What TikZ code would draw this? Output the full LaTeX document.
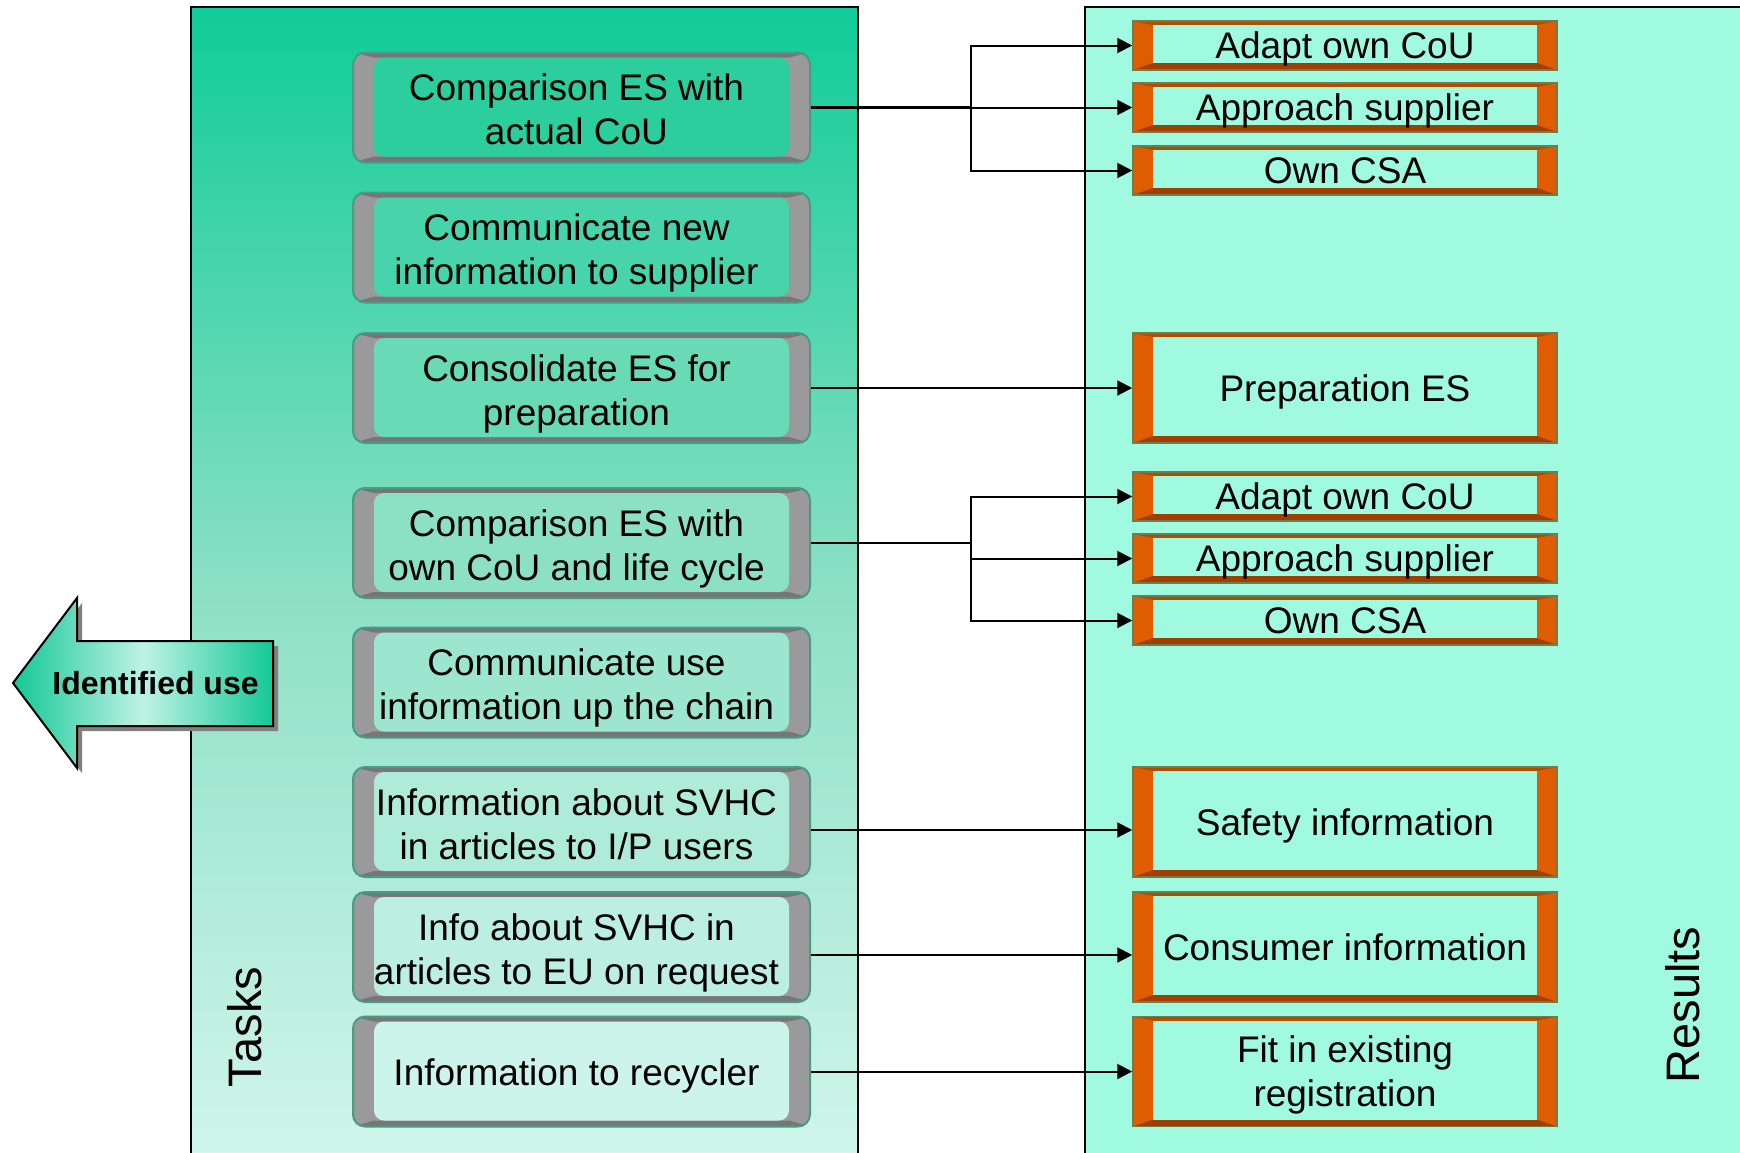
\documentclass[tikz,border=0pt]{standalone}
\usepackage{fontspec}
\setmainfont{Liberation Sans}
\usetikzlibrary{arrows.meta}

% panel colours
\definecolor{panelTop}{RGB}{16,204,152}
\definecolor{panelMid}{RGB}{140,224,196}
\definecolor{panelBot}{RGB}{210,246,236}
\definecolor{resultBg}{RGB}{160,250,224}
% task box colours
\definecolor{bevelGray}{RGB}{154,154,154}
\definecolor{bevelDark}{RGB}{118,118,118}
\definecolor{taskEdge}{RGB}{70,156,134}
\definecolor{faceA}{RGB}{44,206,158}
\definecolor{faceB}{RGB}{72,212,170}
\definecolor{faceC}{RGB}{104,218,182}
\definecolor{faceD}{RGB}{140,225,196}
\definecolor{faceE}{RGB}{156,229,206}
\definecolor{faceF}{RGB}{174,235,216}
\definecolor{faceG}{RGB}{188,239,225}
\definecolor{faceH}{RGB}{204,244,234}
% result box colours
\definecolor{orangeSide}{RGB}{224,92,0}
\definecolor{orangeTop}{RGB}{172,80,0}
\definecolor{orangeBot}{RGB}{160,64,0}
\definecolor{resultEdge}{RGB}{110,124,80}
% banner arrow colours
\definecolor{bannerEdge}{RGB}{20,200,150}
\definecolor{bannerLight}{RGB}{190,242,228}

\tikzset{
  txt/.style={font=\fontsize{18.5}{22}\selectfont, align=center, text=black, text depth=0pt},
  taskbox/.style={draw=taskEdge, line width=1pt, fill=bevelGray,
    rounded corners=6pt, minimum width=228.5pt, minimum height=55pt, inner sep=0pt,
    path picture={
      \fill[bevelDark, sharp corners]
        (path picture bounding box.north west) -- (path picture bounding box.north east)
        -- ([xshift=-10.5pt,yshift=-2.5pt]path picture bounding box.north east)
        -- ([xshift=10.5pt,yshift=-2.5pt]path picture bounding box.north west) -- cycle;
      \fill[bevelDark, sharp corners]
        (path picture bounding box.south west) -- (path picture bounding box.south east)
        -- ([xshift=-10.5pt,yshift=3pt]path picture bounding box.south east)
        -- ([xshift=10.5pt,yshift=3pt]path picture bounding box.south west) -- cycle;
      \fill[#1, rounded corners=5pt]
        ([xshift=10.5pt,yshift=-2.5pt]path picture bounding box.north west)
        rectangle ([xshift=-10.5pt,yshift=3pt]path picture bounding box.south east);
    }},
  tasktext/.style={txt, inner sep=0pt},
  resultbox/.style={txt, draw=resultEdge, line width=0.75pt, fill=orangeSide,
    minimum width=212pt, minimum height=#1, inner sep=0pt,
    path picture={
      \fill[orangeTop]
        (path picture bounding box.north west) -- (path picture bounding box.north east)
        -- ([xshift=-10pt,yshift=-2pt]path picture bounding box.north east)
        -- ([xshift=10pt,yshift=-2pt]path picture bounding box.north west) -- cycle;
      \fill[orangeBot]
        (path picture bounding box.south west) -- (path picture bounding box.south east)
        -- ([xshift=-10pt,yshift=3.5pt]path picture bounding box.south east)
        -- ([xshift=10pt,yshift=3.5pt]path picture bounding box.south west) -- cycle;
      \fill[resultBg]
        ([xshift=10pt,yshift=-2pt]path picture bounding box.north west)
        rectangle ([xshift=-10pt,yshift=3.5pt]path picture bounding box.south east);
    }},
  link/.style={draw=black, line width=1pt},
  stem/.style={draw=black, line width=1.3pt},
  tip/.style={link, -{Triangle[length=7.5pt,width=7.5pt]}},
  sidelabel/.style={font=\fontsize{23.5}{26}\selectfont, rotate=90},
}

\begin{document}
\begin{tikzpicture}[x=0.5pt, y=-0.5pt]
\useasboundingbox (0,0) rectangle (1740,1152);
\clip (0,0) rectangle (1740,1152);

% background panels
\draw[line width=1pt, top color=panelTop, bottom color=panelBot, middle color=panelMid]
  (191,7) rectangle (858,1172);
\draw[line width=1pt, fill=resultBg] (1085,7) rectangle (1760,1172);

\node[sidelabel] (taskslabel) at (245,1027) {Tasks};
\node[sidelabel] (resultslabel) at (1683,1005) {Results};

% "Identified use" banner arrow with drop shadow
\fill[black!50] (18,688) -- (82,603) -- (82,646) -- (278,646) -- (278,731)
  -- (82,731) -- (82,773) -- cycle;
\draw[line width=1pt, left color=bannerEdge, right color=bannerEdge, middle color=bannerLight]
  (13,683) -- (77,598) -- (77,641) -- (273,641) -- (273,726) -- (77,726) -- (77,768) -- cycle;
\node[font=\bfseries\fontsize{16}{19}\selectfont] (identified) at (155.5,683) {Identified use};

% task column: bevelled boxes, then their captions
\node[taskbox=faceA] (t1) at (581.5,107.5) {};
\node[taskbox=faceB] (t2) at (581.5,247.5) {};
\node[taskbox=faceC] (t3) at (581.5,388) {};
\node[taskbox=faceD] (t4) at (581.5,543) {};
\node[taskbox=faceE] (t5) at (581.5,682.5) {};
\node[taskbox=faceF] (t6) at (581.5,822) {};
\node[taskbox=faceG] (t7) at (581.5,947) {};
\node[taskbox=faceH] (t8) at (581.5,1071.5) {};

\node[tasktext] (t1text) at ([xshift=-2.5pt,yshift=-1pt]t1.center) {Comparison ES with\\actual CoU};
\node[tasktext] (t2text) at ([xshift=-2.5pt,yshift=-1pt]t2.center) {Communicate new\\information to supplier};
\node[tasktext] (t3text) at ([xshift=-2.5pt,yshift=-1pt]t3.center) {Consolidate ES for\\preparation};
\node[tasktext] (t4text) at ([xshift=-2.5pt,yshift=-1pt]t4.center) {Comparison ES with\\own CoU and life cycle};
\node[tasktext] (t5text) at ([xshift=-2.5pt,yshift=-1pt]t5.center) {Communicate use\\information up the chain};
\node[tasktext] (t6text) at ([xshift=-2.5pt,yshift=-1pt]t6.center) {Information about SVHC\\in articles to I/P users};
\node[tasktext] (t7text) at ([xshift=-2.5pt,yshift=-1pt]t7.center) {Info about SVHC in\\articles to EU on request};
\node[tasktext] (t8text) at ([xshift=-2.5pt,yshift=-0.5pt]t8.center) {Information to recycler};

% result column
\node[resultbox=24.5pt] (r1a) at (1345,45.5) {Adapt own CoU};
\node[resultbox=24.5pt] (r1b) at (1345,107.5) {Approach supplier};
\node[resultbox=24.5pt] (r1c) at (1345,170.5) {Own CSA};
\node[resultbox=55pt] (r3) at (1345,388) {Preparation ES};
\node[resultbox=24.5pt] (r4a) at (1345,496.5) {Adapt own CoU};
\node[resultbox=24.5pt] (r4b) at (1345,558.5) {Approach supplier};
\node[resultbox=24.5pt] (r4c) at (1345,620.5) {Own CSA};
\node[resultbox=55pt] (r6) at (1345,822) {Safety information};
\node[resultbox=55pt] (r7) at (1345,947) {Consumer information};
\node[resultbox=55pt] (r8) at (1345,1071.5) {Fit in existing\\registration};

% connectors
\coordinate (j1) at (971,107.5);
\coordinate (j4) at (971,543);
\draw[stem] (t1.east) -- (j1);
\draw[tip] (j1) |- (r1a.west);
\draw[tip] (j1) -- (r1b.west);
\draw[tip] (j1) |- (r1c.west);

\draw[tip] (t3.east) -- (r3.west);

\draw[stem] (t4.east) -- (j4);
\draw[tip] (j4) |- (r4a.west);
\draw[tip] (j4) |- (r4b.west);
\draw[tip] (j4) |- (r4c.west);

\draw[tip] ([yshift=-4pt]t6.east) -- ([yshift=-4pt]r6.west);
\draw[tip] ([yshift=-4pt]t7.east) -- ([yshift=-4pt]r7.west);
\draw[tip] (t8.east) -- (r8.west);
\end{tikzpicture}
\end{document}
